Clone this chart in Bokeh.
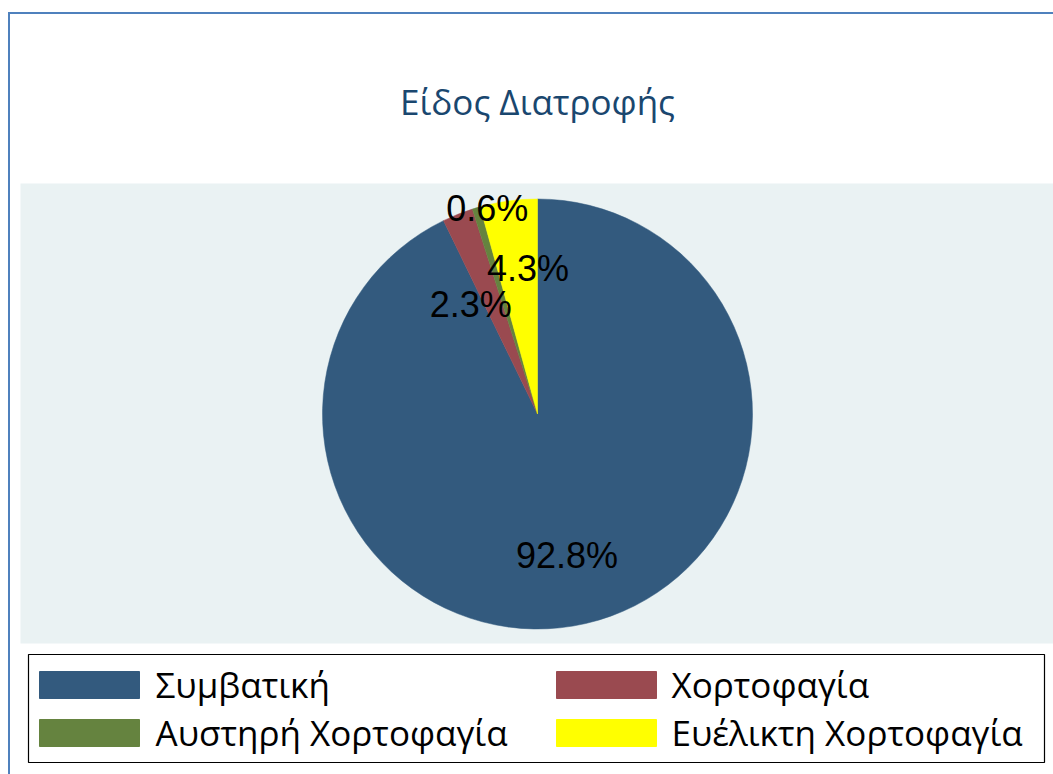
import math
from bokeh.plotting import figure
from bokeh.models import Range1d, ColumnDataSource
from bokeh.embed import file_html
from bokeh.resources import INLINE
from bokeh.core.properties import value

# ---- data ----
title_text = "Είδος Διατροφής"
categories = ["Συμβατική", "Χορτοφαγία", "Αυστηρή Χορτοφαγία", "Ευέλικτη Χορτοφαγία"]
percents = [92.8, 2.3, 0.6, 4.3]
colors = ["#335a7e", "#9a4a50", "#65833f", "#ffff00"]

# ---- layout (canvas pixels; y measured downward from top) ----
W, H = 1053, 774
def Y(cy):
    return H - cy

p = figure(width=W, height=H, x_range=Range1d(0, W), y_range=Range1d(0, H),
           output_backend="svg", toolbar_location=None, min_border=0,
           border_fill_color="white", background_fill_color="white")
p.axis.visible = False
p.grid.visible = False
p.outline_line_color = None

# outer blue frame (left and top visible)
p.quad(left=[7.5], right=[9.5], bottom=[0], top=[Y(11.5)], fill_color="#4f81bd", line_color=None)
p.quad(left=[7.5], right=[W], bottom=[Y(13.5)], top=[Y(11.5)], fill_color="#4f81bd", line_color=None)

# plot region background
p.quad(left=[20], right=[W], bottom=[Y(643)], top=[Y(183)], fill_color="#eaf2f3", line_color=None)

# pie
cx, cy, R = 537, Y(413.5), 215
total = sum(percents)
starts, ends, mids = [], [], []
acc = 0.0
for v in percents:
    a0 = math.pi / 2 - 2 * math.pi * acc / total
    acc += v
    a1 = math.pi / 2 - 2 * math.pi * acc / total
    starts.append(a0); ends.append(a1); mids.append((a0 + a1) / 2)

src = ColumnDataSource(dict(cat=categories, val=percents, color=colors,
                            start=starts, end=ends))
p.wedge(x=cx, y=cy, radius=R, start_angle="start", end_angle="end",
        direction="clock", fill_color="color", line_color="color",
        line_width=0.5, source=src)

# slice labels
lr = 145
label_dx = [-3, -13, -9, 10]
label_dy = [0, 25, -67, -2]
lsrc = ColumnDataSource(dict(
    x=[cx + lr * math.cos(m) for m in mids],
    y=[cy + lr * math.sin(m) for m in mids],
    t=["%.1f%%" % v for v in percents],
    dx=label_dx, dy=label_dy))
p.text(x="x", y="y", text="t", x_offset="dx", y_offset="dy", source=lsrc,
       text_align="center", text_baseline="alphabetic",
       text_font=value("Liberation Sans"), text_font_size="36px", text_color="black")

# title
p.text(x=[537], y=[Y(101)], text=[title_text], text_align="center",
       text_baseline="alphabetic", text_font=value("Open Sans"),
       text_font_size="35px", text_color="#1a476f")

# legend box
p.quad(left=[28], right=[1044], bottom=[Y(762)], top=[Y(654)],
       fill_color="white", line_color="black", line_width=1.2)

key_left = [39, 556]
text_left = [155, 671]
row_center = [684.5, 732.5]
row_base = [684, 732]
kx, ky, tx, ty = [], [], [], []
for i in range(len(categories)):
    col, row = i % 2, i // 2
    kx.append(key_left[col] + 50)
    ky.append(Y(row_center[row]))
    tx.append(text_left[col])
    ty.append(Y(row_base[row]))
ksrc = ColumnDataSource(dict(x=kx, y=ky, tx=tx, ty=ty, cat=categories, color=colors))
p.rect(x="x", y="y", width=100, height=27, fill_color="color", line_color="color", source=ksrc)
p.text(x="tx", y="ty", text="cat", source=ksrc, text_align="left",
       text_baseline="alphabetic", text_font=value("Open Sans"),
       text_font_size="35px", text_color="black")

open("out.html", "w").write(file_html(p, INLINE))
